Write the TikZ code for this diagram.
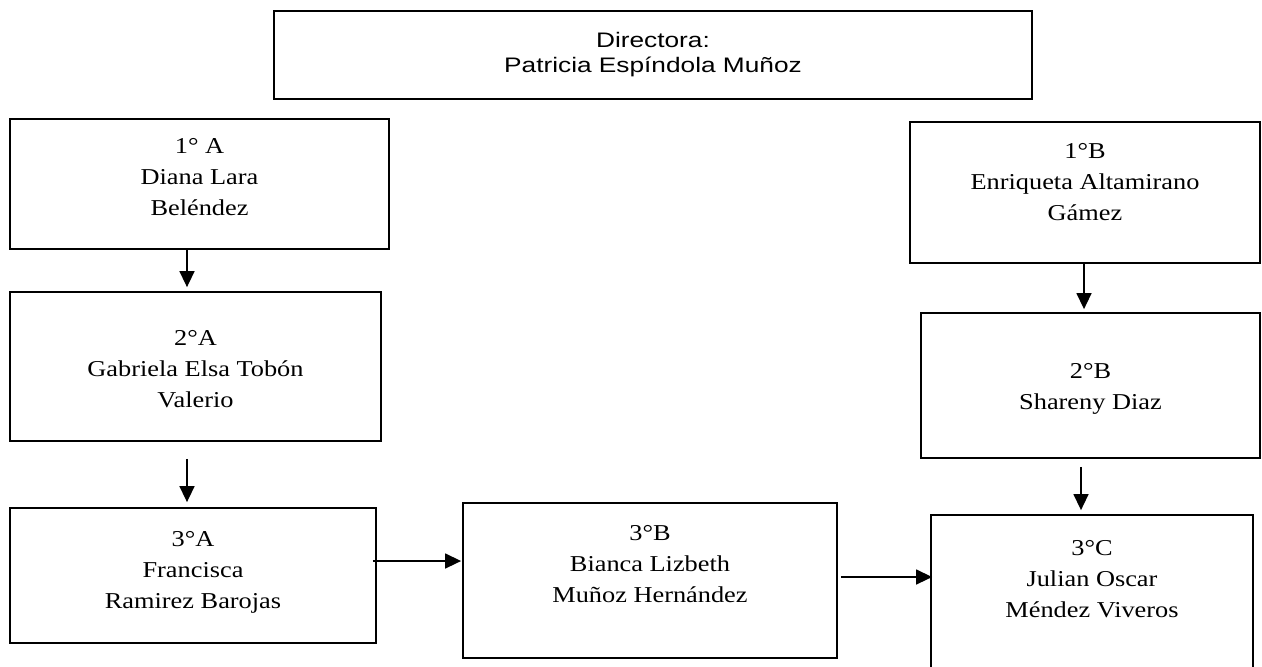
\documentclass[tikz,border=0pt]{standalone}
\usepackage{fontspec}
\setmainfont[FakeStretch=1.16]{Liberation Serif}
\newfontfamily\dirfont[FakeStretch=1.25]{Liberation Sans}
\usepackage{tikz}
\usetikzlibrary{arrows.meta,calc}

% one pixel of the sketch
\newlength{\px}
\setlength{\px}{0.5pt}
% card: width, height, top gap, lines
\newcommand{\card}[4]{\parbox[c][#2\px][t]{#1\px}{\centering\vspace*{#3\px}#4}}

\begin{document}
\begin{tikzpicture}[
  x=0.5pt, y=-0.5pt,
  box/.style={draw, line width=0.9pt, inner sep=0pt, font=\fontsize{11.35}{15.5}\selectfont},
  head/.style={box, font=\dirfont\fontsize{10.5}{12.5}\selectfont},
  arr/.style={-{Triangle[length=8pt, width=7.5pt]}, line width=0.75pt}
]
\useasboundingbox (0,0) rectangle (1262,666);

\node[head] (dir) at (653,55)
  {\card{758}{88}{21}{Directora:\\ Patricia Espíndola Muñoz}};

\node[box] (pa) at (199.5,184)
  {\card{379}{130}{19}{1° A\\ Diana Lara\\ Beléndez}};
\node[box] (sa) at (195.5,366.5)
  {\card{371}{149}{38}{2°A\\ Gabriela Elsa Tobón\\ Valerio}};
\node[box] (ta) at (193,575.5)
  {\card{366}{135}{23}{3°A\\ Francisca\\ Ramirez Barojas}};

\node[box] (tb) at (650,580.5)
  {\card{374}{155}{22}{3°B\\ Bianca Lizbeth\\ Muñoz Hernández}};

\node[box] (pb) at (1085,192.5)
  {\card{350}{141}{21}{1°B\\ Enriqueta Altamirano\\ Gámez}};
\node[box] (sb) at (1090.5,385.5)
  {\card{339}{145}{50}{2°B\\ Shareny Diaz}};
\node[box] (tc) at (1092,592.5)
  {\card{322}{155}{25}{3°C\\ Julian Oscar\\ Méndez Viveros}};

% first column
\draw[arr, shorten >=2pt] ($(pa.south)+(-12.5,0)$) coordinate (p1) -- (p1 |- sa.north);
\draw[arr, shorten <=8.5pt, shorten >=2.5pt] ($(sa.south)+(-8.5,0)$) coordinate (p2) -- (p2 |- ta.north);

% second column
\draw[arr, shorten >=1.5pt] ($(pb.south)+(-1,0)$) coordinate (p3) -- (p3 |- sb.north);
\draw[arr, shorten <=4pt, shorten >=2pt] ($(sb.south)+(-9.5,0)$) coordinate (p4) -- (p4 |- tc.north);

% third grade row
\draw[arr, shorten <=-2pt, shorten >=0.5pt] ($(ta.east)+(0,-14.5)$) coordinate (p5) -- (p5 -| tb.west);
\draw[arr, shorten <=1.5pt, shorten >=-1pt] ($(tb.east)+(0,-3.5)$) coordinate (p6) -- (p6 -| tc.west);

\end{tikzpicture}
\end{document}
